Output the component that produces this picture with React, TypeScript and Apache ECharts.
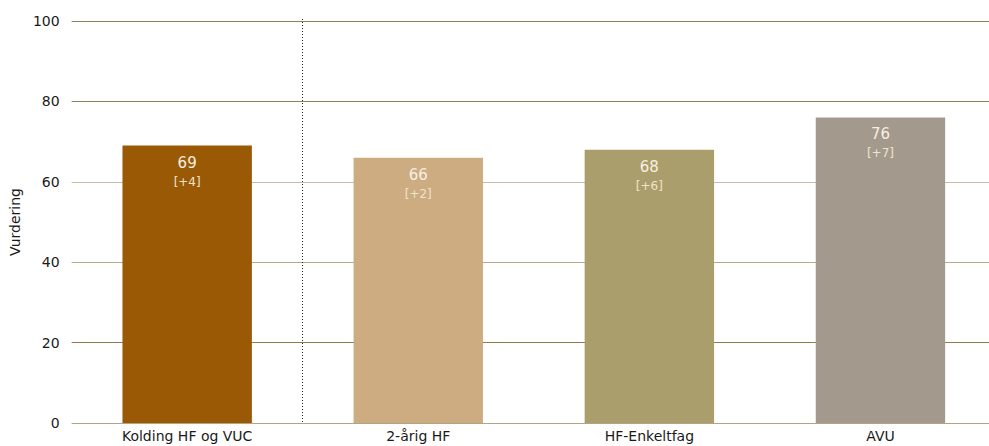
import React, { useEffect, useRef } from "react";
import * as echarts from "echarts";

const categories = ["Kolding HF og VUC", "2-årig HF", "HF-Enkeltfag", "AVU"];
const values = [69, 66, 68, 76];
const deltas = ["+4", "+2", "+6", "+7"];
const barColors = ["#9a5905", "#cdac82", "#ab9e6d", "#a39a8d"];
const yTicks = [0, 20, 40, 60, 80, 100];
const gridColors = ["#b3a584", "#927a4b", "#b8ab85", "#c9bda6", "#8f8060", "#8f8060"];

export default function App() {
  const ref = useRef<HTMLDivElement>(null);
  useEffect(() => {
    if (!ref.current) return;
    const chart = echarts.init(ref.current, null, { renderer: "svg" });
    const font = "DejaVu Sans, Verdana, sans-serif";
    chart.setOption({
      animation: false,
      grid: { left: 65, right: 0, top: 21, bottom: 23, containLabel: false },
      xAxis: {
        type: "category",
        data: categories,
        axisLine: { show: false },
        axisTick: { show: false },
        axisLabel: { color: "#1a1a1a", fontFamily: font, fontSize: 14, margin: 6 },
      },
      yAxis: {
        type: "value",
        min: yTicks[0],
        max: yTicks[yTicks.length - 1],
        interval: 20,
        name: "Vurdering",
        nameLocation: "middle",
        nameGap: 46,
        nameTextStyle: { color: "#1a1a1a", fontFamily: font, fontSize: 14 },
        axisLine: { show: false },
        axisTick: { show: false },
        axisLabel: { color: "#1a1a1a", fontFamily: font, fontSize: 14, margin: 12 },
        splitLine: { show: true, lineStyle: { color: gridColors, width: 1 } },
      },
      series: [
        {
          type: "bar",
          barWidth: "56%",
          data: values.map((v, i) => ({ value: v, itemStyle: { color: barColors[i] } })),
          label: {
            show: true,
            position: "insideTop",
            distance: 7,
            formatter: (p: any) => `{a|${p.value}}\n{b|[${deltas[p.dataIndex]}]}`,
            rich: {
              a: { color: "#f7efe2", fontFamily: font, fontSize: 15, lineHeight: 20 },
              b: { color: "#efe3cc", fontFamily: font, fontSize: 12, lineHeight: 18 },
            },
          },
        },
      ],
    });
    const p0 = chart.convertToPixel({ xAxisIndex: 0 }, 0) as number;
    const p1 = chart.convertToPixel({ xAxisIndex: 0 }, 1) as number;
    const top = chart.convertToPixel({ yAxisIndex: 0 }, yTicks[yTicks.length - 1]) as number;
    const bottom = chart.convertToPixel({ yAxisIndex: 0 }, yTicks[0]) as number;
    const x = Math.floor((p0 + p1) / 2) + 0.5;
    chart.setOption({
      graphic: [
        {
          type: "line",
          shape: { x1: x, y1: top - 2, x2: x, y2: bottom },
          style: { stroke: "#222", lineWidth: 1, lineDash: [1, 2] },
          z: 10,
        },
      ],
    });
    return () => chart.dispose();
  }, []);
  return (
    <div style={{ width: 989, height: 446, position: "absolute", left: 0, top: 0, overflow: "hidden" }}>
      <div ref={ref} style={{ width: 996, height: 446 }} />
    </div>
  );
}
